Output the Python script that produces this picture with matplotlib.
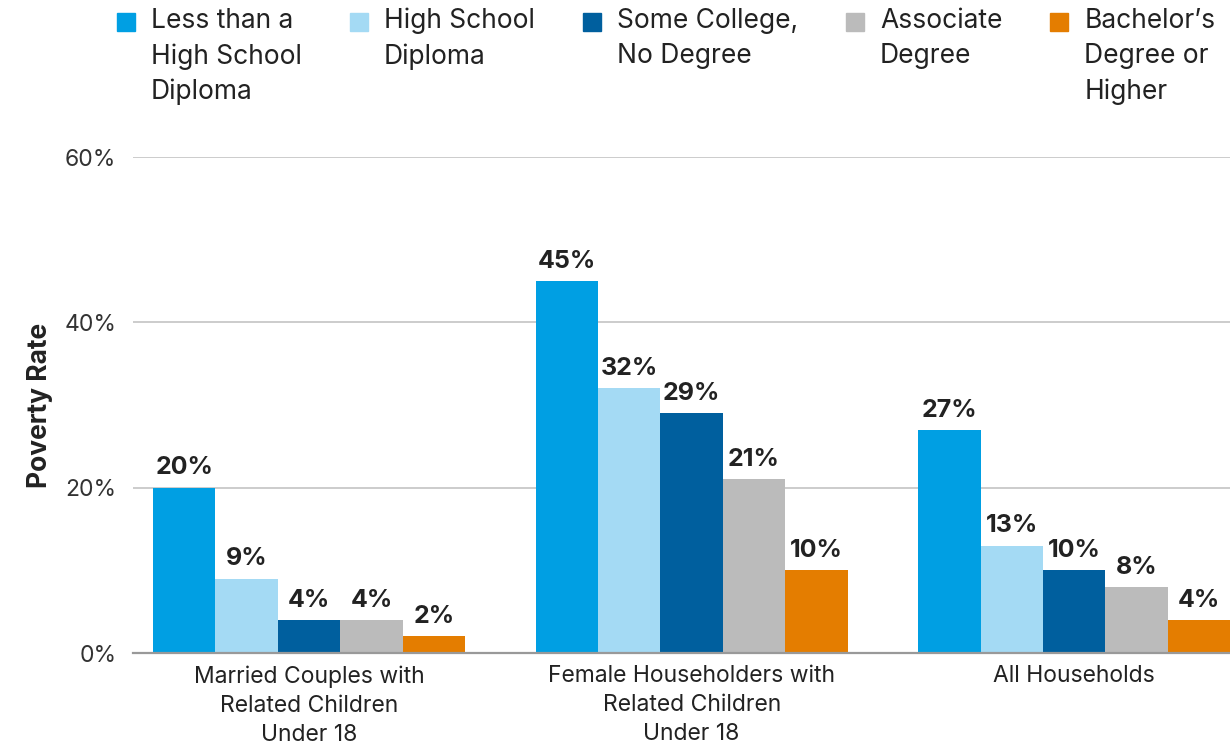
import numpy as np
import matplotlib
matplotlib.use("Agg")
import matplotlib.pyplot as plt
from matplotlib.patches import Rectangle

plt.rcParams["font.family"] = ["Inter", "DejaVu Sans"]

groups = [
    "Married Couples with\nRelated Children\nUnder 18",
    "Female Householders with\nRelated Children\nUnder 18",
    "All Households",
]
series = [
    "Less than a\nHigh School\nDiploma",
    "High School\nDiploma",
    "Some College,\nNo Degree",
    "Associate\nDegree",
    "Bachelor\u2019s\nDegree or\nHigher",
]
values = [
    [20, 45, 27],
    [9, 32, 13],
    [4, 29, 10],
    [4, 21, 8],
    [2, 10, 4],
]
colors = ["#009FE3", "#A4DAF4", "#005F9E", "#BBBBBB", "#E47D00"]
yticks = [0, 20, 40, 60]

fig = plt.figure(figsize=(12.3, 7.44), dpi=100)
ax = fig.add_axes([133 / 1230, 1 - 653 / 744, 1 - 133 / 1230, (653 - 157) / 744])

x = np.arange(len(groups))
width = 0.163
for i, (name, vals, c) in enumerate(zip(series, values, colors)):
    pos = x + (i - 2) * width
    bars = ax.bar(pos, vals, width, color=c, zorder=3)
    for b, v in zip(bars, vals):
        ax.text(b.get_x() + b.get_width() / 2, v + 1.0, f"{v}%",
                ha="center", va="bottom", fontsize=18, fontweight="bold",
                color="#222222")

ax.set_xlim(-0.46, 2.407)
ax.set_ylim(0, 60)
ax.set_yticks(yticks)
ax.set_yticklabels([f"{t}%" for t in yticks], fontsize=16.5, color="#333333")
ax.set_xticks(x)
ax.set_xticklabels(groups, fontsize=16.5, color="#222222", linespacing=1.4)
ax.tick_params(axis="both", length=0)
ax.tick_params(axis="y", pad=12)
ax.tick_params(axis="x", pad=9)
ax.yaxis.grid(True, color="#C8C8C8", linewidth=1.3, zorder=0)
for s in ["top", "right", "left"]:
    ax.spines[s].set_visible(False)
ax.spines["bottom"].set_color("#999999")
ax.spines["bottom"].set_linewidth(1.6)
ax.spines["bottom"].set_zorder(4)
ax.set_ylabel("Poverty Rate", fontsize=19, fontweight="bold",
              color="#222222", labelpad=8)

# legend drawn by hand so the swatches sit at the top of the wrapped labels
renderer = fig.canvas.get_renderer()
lx = 117 / 1230
top = 1 - 8 / 744
sw, sh = 18 / 1230, 18 / 744
for name, c in zip(series, colors):
    fig.patches.append(Rectangle((lx, top - 5 / 744 - sh), sw, sh,
                                 transform=fig.transFigure, color=c))
    t = fig.text(lx + 34 / 1230, top, name, fontsize=19, color="#222222",
                 va="top", ha="left", linespacing=1.45)
    w = t.get_window_extent(renderer).width
    lx = lx + (34 + w + 48) / 1230

fig.savefig("out.png", dpi=100)
